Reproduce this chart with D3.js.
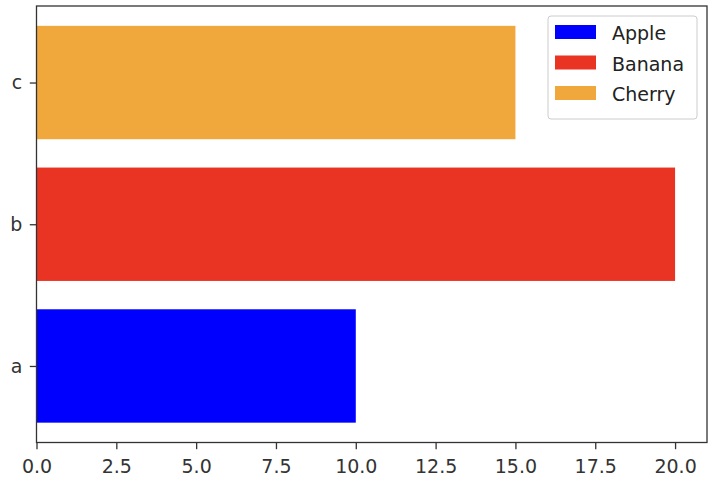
<!DOCTYPE html>
<html>
<head>
<meta charset="utf-8">
<script src="https://cdn.jsdelivr.net/npm/d3@7"></script>
<style>
  body { margin: 0; background: #fff; }
  svg { font-family: "DejaVu Sans", sans-serif; }
</style>
</head>
<body>
<svg width="716" height="488"></svg>
<script>
const width = 716;
const height = 488;

const categories = ["a", "b", "c"];
const values = [10, 20, 15];
const series = ["Apple", "Banana", "Cherry"];
const colors = ["#0000ff", "#e93423", "#f0a73b"];
const xTicks = [0, 2.5, 5, 7.5, 10, 12.5, 15, 17.5, 20];

const margin = { left: 36.5, right: 9, top: 6, bottom: 45.5 };
const plotW = width - margin.left - margin.right;
const plotH = height - margin.top - margin.bottom;

const x = d3.scaleLinear().domain([0, 21]).range([0, plotW]);
// bar centres at 0,1,2; matplotlib-like margins
const y = d3.scaleLinear().domain([-0.54, 2.54]).range([plotH, 0]);
const barH = 0.8;

const svg = d3.select("svg");
const g = svg.append("g").attr("transform", `translate(${margin.left},${margin.top})`);

g.selectAll("rect.bar")
  .data(categories)
  .join("rect")
  .attr("class", "bar")
  .attr("x", x(0))
  .attr("y", (d, i) => y(i + barH / 2))
  .attr("width", (d, i) => x(values[i]) - x(0))
  .attr("height", y(0) - y(barH))
  .attr("fill", (d, i) => colors[i]);

// frame
g.append("rect")
  .attr("x", 0).attr("y", 0)
  .attr("width", plotW).attr("height", plotH)
  .attr("fill", "none")
  .attr("stroke", "#333")
  .attr("stroke-width", 1.3);

const xAxis = g.append("g")
  .attr("transform", `translate(0,${plotH})`)
  .call(d3.axisBottom(x)
    .tickValues(xTicks)
    .tickFormat(d3.format(".1f"))
    .tickSize(6.7)
    .tickPadding(10.5));

const yAxis = g.append("g")
  .call(d3.axisLeft(y)
    .tickValues([0, 1, 2])
    .tickFormat(i => categories[i])
    .tickSize(6.7)
    .tickPadding(7.5));

[xAxis, yAxis].forEach(a => {
  a.select(".domain").remove();
  a.selectAll(".tick line").attr("stroke", "#333").attr("stroke-width", 1.3);
  a.selectAll(".tick text")
    .attr("fill", "#333")
    .attr("font-size", 19)
    .attr("font-family", "DejaVu Sans, sans-serif");
});

// legend
const legend = svg.append("g").attr("transform", "translate(548,16)");
legend.append("rect")
  .attr("width", 149).attr("height", 103)
  .attr("rx", 3)
  .attr("fill", "#fff")
  .attr("fill-opacity", 0.8)
  .attr("stroke", "#ccc");

const item = legend.selectAll("g.item")
  .data(series)
  .join("g")
  .attr("class", "item")
  .attr("transform", (d, i) => `translate(7,${16 + i * 30.5})`);

item.append("rect")
  .attr("x", 0).attr("y", -7)
  .attr("width", 41).attr("height", 14)
  .attr("fill", (d, i) => colors[i]);

item.append("text")
  .attr("x", 57)
  .attr("y", 8)
  .attr("font-size", 19)
  .attr("fill", "#222")
  .text(d => d);
</script>
</body>
</html>
